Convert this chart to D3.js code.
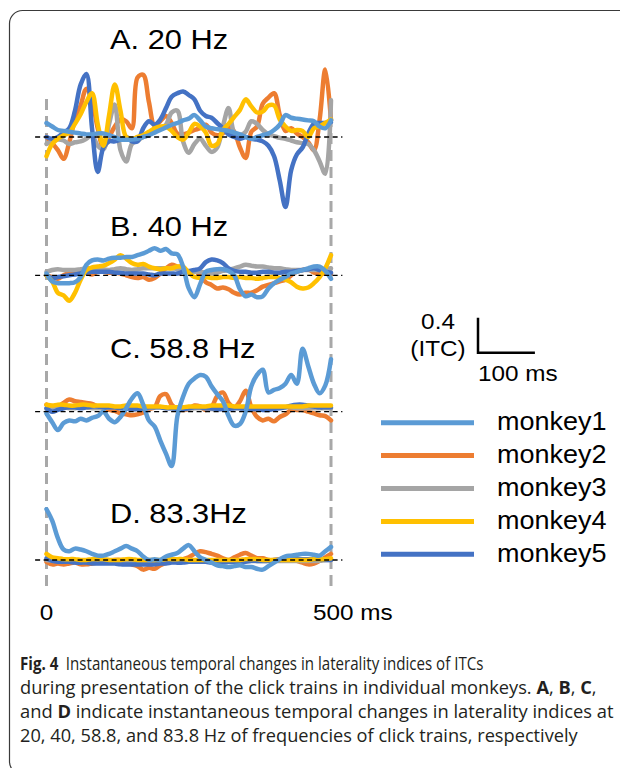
<!DOCTYPE html>
<html>
<head>
<meta charset="utf-8">
<script src="https://cdn.jsdelivr.net/npm/d3@7"></script>
<style>
  body { margin: 0; background: #fff; }
  svg { display: block; }
</style>
</head>
<body>
<div id="container"></div>
<script>
// time axis (ms) shared by every trace
var times = [0,10,20,30,40,50,60,70,80,90,100,110,120,130,140,150,160,170,180,190,
             200,210,220,230,240,250,260,270,280,290,300,310,320,330,340,350,360,370,380,390,
             400,410,420,430,440,450,460,470,480,490,500];
var monkeys = ["monkey1", "monkey2", "monkey3", "monkey4", "monkey5"];
var colors = ["#5B9BD5", "#ED7D31", "#A5A5A5", "#FFC000", "#4472C4"];
var titles = ["A. 20 Hz", "B. 40 Hz", "C. 58.8 Hz", "D. 83.3Hz"];
var xTicks = [0, 500];
var xTickLabels = ["0", "500 ms"];

// A. 20 Hz
var A1 = [0.16,0.12,0.08,0.07,0.06,0.05,0.04,0.03,0.03,0.04, 0.04,0.02,0.0,-0.03,-0.03,-0.03,-0.02,0.0,0.02,0.05,
          0.08,0.11,0.14,0.16,0.19,0.21,0.25,0.19,0.12,0.1, 0.09,0.08,0.07,0.05,0.03,0.0,-0.02,0.0,0.02,0.04,
          0.08,0.14,0.25,0.22,0.21,0.2,0.19,0.18,0.12,0.1, 0.19];
var A2 = [0.0,-0.07,-0.15,-0.25,-0.06,0.2,0.36,0.55,0.42,0.1, -0.12,0.0,0.12,0.2,0.18,0.1,0.68,0.71,0.4,0.13,
          0.18,0.24,0.16,0.04,0.03,0.05,0.08,0.1,0.14,0.05, 0.02,0.04,0.12,0.06,-0.12,-0.24,0.06,0.12,0.38,0.45,
          0.5,0.25,0.07,0.1,0.04,0.0,-0.06,-0.15,0.2,0.77, 0.19];
var A3 = [-0.08,-0.05,-0.03,-0.04,-0.08,-0.06,-0.05,-0.02,0.02,-0.1, -0.14,0.15,0.37,-0.15,-0.28,-0.08,-0.04,0.0,0.02,0.07,
          0.1,0.14,0.28,0.3,-0.05,-0.18,-0.08,-0.02,-0.1,-0.17, -0.12,0.12,0.33,0.05,0.02,0.06,0.18,0.15,0.08,0.03,
          0.01,-0.01,-0.02,-0.04,-0.06,-0.07,-0.08,-0.15,-0.28,-0.42, 0.42];
var A4 = [-0.22,-0.08,-0.02,0.02,0.05,0.15,0.26,0.4,0.5,0.15, -0.1,0.25,0.6,0.3,0.0,-0.02,0.0,0.02,0.06,0.1,
          0.12,0.12,0.07,0.0,-0.03,0.05,0.15,0.12,0.05,-0.1, -0.08,0.08,0.15,0.23,0.31,0.43,0.35,0.28,0.29,0.36,
          0.36,0.2,0.12,0.07,0.08,0.07,0.0,0.1,0.12,0.16, 0.2];
var A5 = [0.0,-0.02,0.0,0.05,0.1,0.3,0.6,0.72,0.1,-0.4, -0.12,-0.05,-0.05,-0.03,0.0,-0.05,-0.05,0.1,0.18,0.14,
          0.2,0.33,0.46,0.5,0.52,0.48,0.43,0.3,0.24,0.22, 0.16,0.1,0.03,0.0,-0.02,0.0,-0.02,-0.03,-0.05,-0.1,
          -0.22,-0.5,-0.8,-0.38,-0.2,-0.12,0.04,0.15,0.16,0.16, 0.17];

// B. 40 Hz
var B1 = [0.02,-0.07,-0.09,-0.09,-0.09,-0.08,-0.02,0.12,0.17,0.18, 0.17,0.19,0.2,0.2,0.21,0.21,0.23,0.25,0.28,0.31,
          0.28,0.3,0.25,0.24,0.1,-0.15,-0.25,-0.1,0.04,0.06, 0.07,0.07,0.05,0.0,-0.16,-0.24,-0.22,-0.25,-0.24,-0.15,
          -0.09,-0.05,-0.02,0.02,0.04,0.06,0.08,0.1,0.1,0.05, -0.04];
var B2 = [0.0,-0.02,-0.04,0.0,0.03,0.04,0.05,0.03,0.01,0.04, 0.04,0.03,0.03,0.02,0.0,-0.02,-0.03,-0.02,-0.05,-0.03,
          0.02,0.08,0.12,0.1,0.08,0.04,0.05,0.0,-0.08,-0.11, -0.15,-0.14,-0.16,-0.2,-0.22,-0.2,-0.2,-0.17,-0.13,-0.11,
          -0.09,-0.07,-0.05,0.0,0.04,0.06,0.07,0.03,0.02,0.02, 0.02];
var B3 = [0.04,0.06,0.07,0.06,0.06,0.06,0.07,0.08,0.08,0.07, 0.07,0.06,0.07,0.08,0.07,0.06,0.07,0.08,0.08,0.08,
          0.08,0.08,0.08,0.07,0.05,0.04,0.04,0.04,0.03,0.02, 0.03,0.05,0.06,0.08,0.1,0.12,0.11,0.1,0.1,0.09,
          0.08,0.08,0.07,0.06,0.06,0.06,0.06,0.06,0.06,0.07, 0.08];
var B4 = [0.0,-0.07,-0.2,-0.23,-0.29,-0.2,-0.05,0.06,0.09,0.1, 0.11,0.14,0.18,0.23,0.19,0.14,0.12,0.13,0.1,0.08,
          0.07,0.08,0.08,0.1,0.1,0.03,-0.02,-0.03,-0.02,-0.03, -0.03,-0.02,-0.02,-0.03,-0.02,-0.03,-0.03,-0.04,-0.03,-0.02,
          -0.02,-0.03,-0.05,-0.08,-0.13,-0.15,-0.14,-0.09,-0.02,0.08, 0.23];
var B5 = [0.0,-0.03,-0.02,-0.01,0.0,0.01,0.02,0.03,0.04,0.04, 0.04,0.04,0.03,0.03,0.02,0.02,0.02,0.02,0.01,0.0,
          0.02,0.02,0.02,0.02,0.04,0.05,0.06,0.08,0.15,0.18, 0.17,0.14,0.08,0.05,0.04,0.04,0.03,0.03,0.04,0.04,
          0.03,0.03,0.04,0.04,0.05,0.06,0.07,0.08,0.06,0.04, 0.03];

// C. 58.8 Hz
var C1 = [-0.02,-0.12,-0.21,-0.13,-0.1,-0.11,-0.08,-0.1,-0.07,-0.05, 0.0,-0.08,-0.12,-0.06,0.04,0.15,0.21,0.08,-0.1,-0.17,
          -0.33,-0.48,-0.62,-0.05,0.17,0.32,0.38,0.42,0.4,0.29, 0.2,0.12,-0.05,-0.16,-0.14,0.0,0.29,0.42,0.48,0.22,
          0.25,0.27,0.32,0.42,0.32,0.72,0.52,0.32,0.21,0.3, 0.6];
var C2 = [0.08,0.03,0.05,0.1,0.14,0.12,0.11,0.1,0.09,0.06, 0.05,0.02,0.01,-0.02,-0.03,-0.04,-0.03,-0.01,0.03,0.05,
          0.18,0.2,0.08,0.03,0.02,0.03,0.07,0.06,0.02,0.05, 0.18,0.22,0.1,0.05,0.12,0.24,0.05,-0.06,-0.1,-0.08,
          -0.11,-0.06,-0.03,0.02,0.02,0.02,0.0,-0.02,-0.04,-0.05, -0.1];
var C3 = [0.03,0.04,0.04,0.05,0.04,0.04,0.05,0.05,0.04,0.04, 0.04,0.05,0.05,0.04,0.04,0.03,0.03,0.04,0.04,0.05,
          0.05,0.04,0.04,0.03,0.03,0.03,0.04,0.04,0.04,0.03, 0.03,0.03,0.04,0.04,0.04,0.03,0.03,0.03,0.04,0.04,
          0.04,0.05,0.05,0.05,0.04,0.04,0.04,0.04,0.04,0.04, 0.04];
var C4 = [0.08,0.07,0.08,0.08,0.07,0.07,0.08,0.08,0.07,0.07, 0.07,0.07,0.06,0.06,0.07,0.07,0.07,0.06,0.06,0.06,
          0.06,0.05,0.05,0.05,0.05,0.06,0.06,0.06,0.06,0.07, 0.07,0.07,0.07,0.06,0.06,0.06,0.06,0.06,0.06,0.06,
          0.06,0.06,0.06,0.06,0.06,0.06,0.07,0.07,0.07,0.07, 0.07];
var C5 = [0.04,0.0,0.02,0.04,0.05,0.05,0.04,0.05,0.06,0.06, 0.05,0.05,0.05,0.04,0.04,0.03,0.03,0.04,0.05,0.05,
          0.05,0.04,0.04,0.03,0.03,0.04,0.05,0.05,0.04,0.04, 0.03,0.03,0.03,0.04,0.04,0.03,0.03,0.03,0.02,0.02,
          0.03,0.04,0.05,0.07,0.08,0.08,0.07,0.06,0.05,0.05, 0.05];

// D. 83.3 Hz
var D1 = [0.58,0.45,0.25,0.12,0.1,0.13,0.12,0.1,0.07,0.05, 0.05,0.07,0.1,0.13,0.16,0.13,0.1,0.04,0.0,0.01,
          0.0,0.04,0.06,0.08,0.13,0.17,0.1,0.03,0.0,-0.03, -0.06,-0.07,-0.08,-0.07,-0.06,-0.08,-0.08,-0.1,-0.11,-0.07,
          -0.03,0.01,0.04,0.05,0.06,0.07,0.07,0.06,0.05,0.1, 0.15];
var D2 = [-0.02,-0.05,-0.04,-0.05,-0.04,-0.03,-0.05,-0.05,-0.04,-0.03, -0.02,-0.01,0.0,0.0,-0.02,-0.05,-0.07,-0.11,-0.09,-0.1,
          -0.06,-0.03,-0.01,0.0,0.01,0.03,0.07,0.1,0.09,0.07, 0.05,0.02,0.0,0.03,0.06,0.08,0.05,0.02,0.02,0.0,
          0.0,0.01,0.02,0.0,-0.01,-0.03,-0.05,-0.04,-0.01,0.03, 0.07];
var D3 = [0.0,-0.01,-0.01,-0.02,-0.01,-0.01,-0.01,-0.02,-0.02,-0.01, -0.01,-0.01,-0.02,-0.02,-0.02,-0.01,-0.01,-0.01,-0.02,-0.02,
          -0.02,-0.01,-0.01,-0.01,-0.01,-0.01,-0.02,-0.02,-0.02,-0.02, -0.02,-0.02,-0.01,-0.01,-0.01,-0.01,-0.01,-0.01,-0.01,-0.01,
          -0.01,-0.01,-0.01,-0.01,-0.01,-0.01,-0.01,-0.01,-0.01,0.0, 0.0];
var D4 = [0.07,0.03,0.02,0.01,0.01,0.01,0.0,0.0,0.01,0.01, 0.01,0.0,0.0,0.0,0.01,0.01,0.0,0.0,0.0,0.0,
          0.0,0.01,0.01,0.01,0.01,0.0,0.0,0.0,0.0,0.0, 0.0,0.0,0.0,0.0,0.0,0.01,0.01,0.01,0.0,0.0,
          0.0,0.0,0.0,0.0,0.0,0.0,0.0,0.01,0.01,0.01, 0.02];
var D5 = [0.02,-0.01,-0.02,-0.02,-0.02,-0.03,-0.03,-0.03,-0.04,-0.04, -0.04,-0.04,-0.04,-0.05,-0.05,-0.05,-0.05,-0.05,-0.05,-0.05,
          -0.04,-0.04,-0.03,-0.03,-0.03,-0.02,-0.02,-0.02,-0.02,-0.03, -0.03,-0.03,-0.02,-0.02,-0.02,-0.02,-0.01,-0.01,-0.01,-0.01,
          0.0,0.0,0.01,0.01,0.01,0.01,0.01,0.01,0.01,0.0, 0.0];

var panels = [[A1,A2,A3,A4,A5], [B1,B2,B3,B4,B5], [C1,C2,C3,C4,C5], [D1,D2,D3,D4,D5]];

var width = 620,
    height = 768;

var chartFont = "'Liberation Sans', Arial, sans-serif";
var stretch = "scale(1.08,1)";

var svg = d3.select("#container").append("svg")
    .attr("width", width)
    .attr("height", height)

// rounded frame (runs off the right/bottom edge)
svg.append("rect")
    .attr("x", 9.5).attr("y", 10.5)
    .attr("width", 660).attr("height", 764)
    .attr("rx", 13)
    .attr("fill", "none")
    .attr("stroke", "#3a3a3a")
    .attr("stroke-width", 1.2)

var x = d3.scaleLinear().domain([0, 500]).range([46.5, 331]);
var baselines = [137, 275.3, 411.7, 560];
var titleY = [49, 236, 358, 523];
var unit = 87.5;   // px per 1.0 laterality index
var drawOrder = [1, 2, 4, 3, 0];

// grey stimulus on/offset markers
svg.selectAll(".onset")
    .data(xTicks)
    .enter().append("line")
      .attr("x1", d => x(d)).attr("x2", d => x(d))
      .attr("y1", 99).attr("y2", 592)
      .attr("stroke", "#A8A8A8")
      .attr("stroke-width", 3)
      .attr("stroke-dasharray", "11,6")

panels.forEach(function(series, i) {
  var y = d3.scaleLinear()
      .domain([-1, 1])
      .range([baselines[i] + unit, baselines[i] - unit]);

  var line = d3.line()
      .x((d, j) => x(times[j]))
      .y(d => y(d))
      .curve(d3.curveCatmullRom.alpha(0.5));

  var g = svg.append("g");

  drawOrder.forEach(function(k) {
    g.append("path")
        .datum(series[k])
        .attr("d", line)
        .attr("fill", "none")
        .attr("stroke", colors[k])
        .attr("stroke-width", 4.5)
        .attr("stroke-linejoin", "round")
        .attr("stroke-linecap", "round")
  });

  // zero line
  g.append("line")
      .attr("x1", x(-20)).attr("x2", x(520))
      .attr("y1", y(0)).attr("y2", y(0))
      .attr("stroke", "#000")
      .attr("stroke-width", 1.3)
      .attr("stroke-dasharray", "5,3.5")

  svg.append("text")
      .attr("transform", "translate(110," + titleY[i] + ") " + stretch)
      .attr("font-family", chartFont)
      .attr("font-size", 28.5)
      .attr("fill", "#000")
      .text(titles[i])
});

// x labels under the bottom panel
svg.selectAll(".xlab")
    .data(xTicks)
    .enter().append("text")
      .attr("transform", (d, i) => "translate(" + (i == 0 ? x(d) : x(d) - 18) + ",620) " + stretch)
      .attr("text-anchor", (d, i) => i == 0 ? "middle" : "start")
      .attr("font-family", chartFont)
      .attr("font-size", 22.5)
      .text((d, i) => xTickLabels[i])

// scale bar: 0.4 ITC by 100 ms
var ys = d3.scaleLinear().domain([-1, 1]).range([352.7 + unit, 352.7 - unit]);
var barX = 478;
var barLen = x(100) - x(0);
svg.append("path")
    .attr("d", "M" + barX + "," + ys(0.4) + "V" + ys(0) + "H" + (barX + barLen))
    .attr("fill", "none")
    .attr("stroke", "#000")
    .attr("stroke-width", 2.5)

var scaleText = [["0.4", 438, 329, "middle"], ["(ITC)", 438, 356, "middle"], ["100 ms", 478, 381, "start"]];
svg.selectAll(".sclab")
    .data(scaleText)
    .enter().append("text")
      .attr("transform", d => "translate(" + d[1] + "," + d[2] + ") " + stretch)
      .attr("text-anchor", d => d[3])
      .attr("font-family", chartFont)
      .attr("font-size", 22.5)
      .text(d => d[0])

// legend
var legend = svg.append("g")
    .selectAll("g")
    .data(monkeys)
    .enter().append("g")
      .attr("transform", (d, i) => "translate(0," + (422.7 + i * 32.9) + ")")

legend.append("line")
    .attr("x1", 381).attr("x2", 474)
    .attr("stroke", (d, i) => colors[i])
    .attr("stroke-width", 5)

legend.append("text")
    .attr("transform", "translate(497,7.5) " + stretch)
    .attr("font-family", chartFont)
    .attr("font-size", 25)
    .text(d => d)

// caption, squeezed per line to the widths of the original
var captionLines = [
  { y: 670, right: 484, parts: [["Fig. 4", true], ["\u2002Instantaneous temporal changes in laterality indices of ITCs", false]] },
  { y: 694, right: 597, parts: [["during presentation of the click trains in individual monkeys. ", false], ["A", true], [", ", false], ["B", true], [", ", false], ["C", true], [",", false]] },
  { y: 718, right: 614, parts: [["and ", false], ["D", true], [" indicate instantaneous temporal changes in laterality indices at", false]] },
  { y: 742, right: 578, parts: [["20, 40, 58.8, and 83.8 Hz of frequencies of click trains, respectively", false]] }
];
var capX = 20;

var cap = svg.append("g")
    .attr("font-family", "'Open Sans', 'Noto Sans', sans-serif")
    .attr("font-size", 18.5)
    .attr("fill", "#231F20")

captionLines.forEach(function(l) {
  var t = cap.append("text")
      .attr("xml:space", "preserve")
  l.parts.forEach(function(p) {
    t.append("tspan")
        .attr("font-weight", p[1] ? "bold" : "normal")
        .text(p[0])
  });
  var w = t.node().getComputedTextLength();
  var sx = (l.right - capX) / w;
  t.attr("transform", "translate(" + capX + "," + l.y + ") scale(" + sx + ",1)")
});
</script>
</body>
</html>
